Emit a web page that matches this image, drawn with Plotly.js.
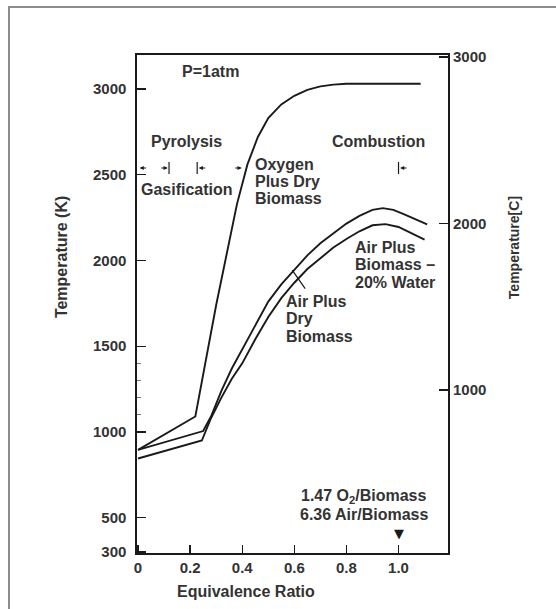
<!DOCTYPE html>
<html>
<head>
<meta charset="utf-8">
<script src="https://cdn.plot.ly/plotly-3.0.1.min.js"></script>
<style>
  html, body { margin:0; padding:0; background:#ffffff; overflow:hidden; }
  #frame { position:absolute; left:8px; top:6px; width:700px; height:800px; border:2px solid #8c8c8c; box-sizing:border-box; }
  #chart { position:absolute; left:0; top:0; width:556px; height:609px; }
</style>
</head>
<body>
<div id="frame"></div>
<div id="chart"></div>
<script>
// ---- data (equivalence ratio vs temperature in K) ----
const oxyX  = [0, 0.22, 0.30, 0.34, 0.38, 0.42, 0.46, 0.50, 0.55, 0.60, 0.65, 0.70, 0.75, 0.80, 1.085];
const oxyK  = [895, 1090, 1740, 2040, 2330, 2560, 2720, 2830, 2910, 2960, 2995, 3015, 3025, 3030, 3030];

const dryX  = [0, 0.25, 0.28, 0.32, 0.36, 0.40, 0.45, 0.50, 0.55, 0.60, 0.65, 0.70, 0.75, 0.80, 0.85, 0.90, 0.94, 0.98, 1.02, 1.06, 1.11];
const dryK  = [895, 1005, 1090, 1240, 1370, 1480, 1620, 1760, 1860, 1945, 2030, 2100, 2160, 2215, 2260, 2295, 2305, 2295, 2270, 2245, 2210];

const wetX  = [0, 0.245, 0.28, 0.32, 0.36, 0.40, 0.45, 0.50, 0.55, 0.60, 0.65, 0.70, 0.75, 0.80, 0.85, 0.90, 0.95, 1.00, 1.05, 1.10];
const wetK  = [845, 950, 1080, 1200, 1310, 1400, 1540, 1670, 1780, 1870, 1950, 2015, 2075, 2125, 2170, 2205, 2212, 2195, 2160, 2122];

// ---- ticks ----
const xTickVals = [0, 0.2, 0.4, 0.6, 0.8, 1.0];
const xTickText = ['0', '0.2', '0.4', '0.6', '0.8', '1.0'];
const kTickVals = [300, 500, 1000, 1500, 2000, 2500, 3000];
const kMinorVals = [1100, 1200, 1300, 1400];
const cTickVals = [1000, 2000, 3000];

// ---- phase boundary markers ----
const phaseBars = [0.119, 0.227, 1.0];          // vertical bar positions
const phaseArrowX = [0.006, 0.114, 0.233, 0.398, 1.006]; // arrow heads
const phaseArrowDir = [1, -1, 1, -1, 1];        // tail side (+ right, - left)
const phaseRowK = 2539;

// ---- labels ----
const oxyLabel = ['Oxygen', 'Plus Dry', 'Biomass'];
const oxyLabelK = [2562, 2463, 2364];
const wetLabel = ['Air Plus', 'Biomass \u2013', '20% Water'];
const wetLabelK = [2078, 1975, 1874];
const dryLabel = ['Air Plus', 'Dry', 'Biomass'];
const dryLabelK = [1758, 1659, 1554];
const ratioLabel = ['1.47 O<sub>2</sub>/Biomass', '6.36 Air/Biomass'];
const ratioLabelK = [621, 516];

const ink = '#1a1a1a';
const txt = '#333333';
const fam = 'Liberation Sans, Arial, sans-serif';
const lblFont = {family: fam, size: 16, color: txt, weight: 'bold'};

const lineStyle = {color: ink, width: 1.9};
const traces = [
  {x: oxyX, y: oxyK, mode: 'lines', line: lineStyle, hoverinfo: 'skip'},
  {x: dryX, y: dryK, mode: 'lines', line: lineStyle, hoverinfo: 'skip'},
  {x: wetX, y: wetK, mode: 'lines', line: lineStyle, hoverinfo: 'skip'},
  {x: [null], y: [null], yaxis: 'y2', mode: 'lines', hoverinfo: 'skip'}
];

const ann = [];
function t(text, x, y, xanchor, font) {
  ann.push({text: text, x: x, y: y, xref: 'x', yref: 'y', xanchor: xanchor || 'center', yanchor: 'middle', showarrow: false, font: font || lblFont});
}
t('P=1atm', 0.277, 3099);
t('Pyrolysis', 0.185, 2691);
t('Gasification', 0.188, 2411);
t('Combustion', 0.925, 2691);
oxyLabel.forEach((s, i) => t(s, 0.442, oxyLabelK[i], 'left'));
wetLabel.forEach((s, i) => t(s, 0.827, wetLabelK[i], 'left'));
dryLabel.forEach((s, i) => t(s, 0.562, dryLabelK[i], 'left'));
ratioLabel.forEach((s, i) => t(s, 0.868, ratioLabelK[i], 'center'));
t('\u25BC', 1.0, 405, 'center', {family: 'DejaVu Sans', size: 13, color: ink});

// leader line for "Air Plus Dry Biomass"
ann.push({x: 0.592, y: 1944, xref: 'x', yref: 'y', text: '', showarrow: true, arrowhead: 0, ax: 14, ay: 20, arrowwidth: 1.2, arrowcolor: ink});

// phase arrows
phaseArrowX.forEach((x, i) => {
  ann.push({x: x, y: phaseRowK, xref: 'x', yref: 'y', text: '', showarrow: true, arrowhead: 2, arrowsize: 0.7, arrowwidth: 1.2, ax: 8 * phaseArrowDir[i], ay: 0, arrowcolor: ink});
});

// axis titles
ann.push({text: 'Temperature (K)', xref: 'paper', yref: 'paper', x: -0.243, y: 0.595, textangle: -90, showarrow: false, xanchor: 'center', yanchor: 'middle', font: {family: fam, size: 16, color: txt, weight: 'bold'}});
ann.push({text: 'Temperature[C]', xref: 'paper', yref: 'paper', x: 1.212, y: 0.614, textangle: -90, showarrow: false, xanchor: 'center', yanchor: 'middle', font: {family: fam, size: 14, color: txt, weight: 'bold'}});
ann.push({text: 'Equivalence Ratio', xref: 'paper', yref: 'paper', x: 0.350, y: -0.077, showarrow: false, xanchor: 'center', yanchor: 'middle', font: {family: fam, size: 16, color: txt, weight: 'bold'}});

const shapes = phaseBars.map(x => ({type: 'line', xref: 'x', yref: 'y', x0: x, x1: x, y0: phaseRowK - 35, y1: phaseRowK + 35, line: {color: ink, width: 1.2}}));

const tickFont = {family: fam, size: 15, color: txt, weight: 'bold'};
const layout = {
  width: 556, height: 609,
  margin: {l: 137, r: 108, t: 55, b: 56, pad: 0},
  paper_bgcolor: 'rgba(0,0,0,0)', plot_bgcolor: 'rgba(0,0,0,0)',
  showlegend: false,
  xaxis: {range: [-0.004, 1.19], tickvals: xTickVals, ticktext: xTickText, ticks: 'inside', ticklen: 8, tickwidth: 1.3, tickcolor: ink,
          showline: true, linecolor: ink, linewidth: 1.6, mirror: true, showgrid: false, zeroline: false, tickfont: tickFont, ticklabelstandoff: 0},
  yaxis: {range: [294, 3198], tickvals: kTickVals, ticks: 'inside', ticklen: 9, tickwidth: 1.3, tickcolor: ink,
          minor: {tickvals: kMinorVals, ticks: 'inside', ticklen: 4, tickcolor: '#777', showgrid: false},
          showline: true, linecolor: ink, linewidth: 1.6, mirror: true, showgrid: false, zeroline: false, tickfont: tickFont, ticklabelstandoff: 6},
  yaxis2: {overlaying: 'y', side: 'right', range: [21, 3012], tickvals: cTickVals, ticks: 'inside', ticklen: 9, tickwidth: 1.3, tickcolor: ink,
           showline: false, showgrid: false, zeroline: false, tickfont: tickFont, ticklabelstandoff: 4},
  annotations: ann,
  shapes: shapes
};
Plotly.newPlot('chart', traces, layout, {staticPlot: true, displayModeBar: false});
</script>
</body>
</html>
